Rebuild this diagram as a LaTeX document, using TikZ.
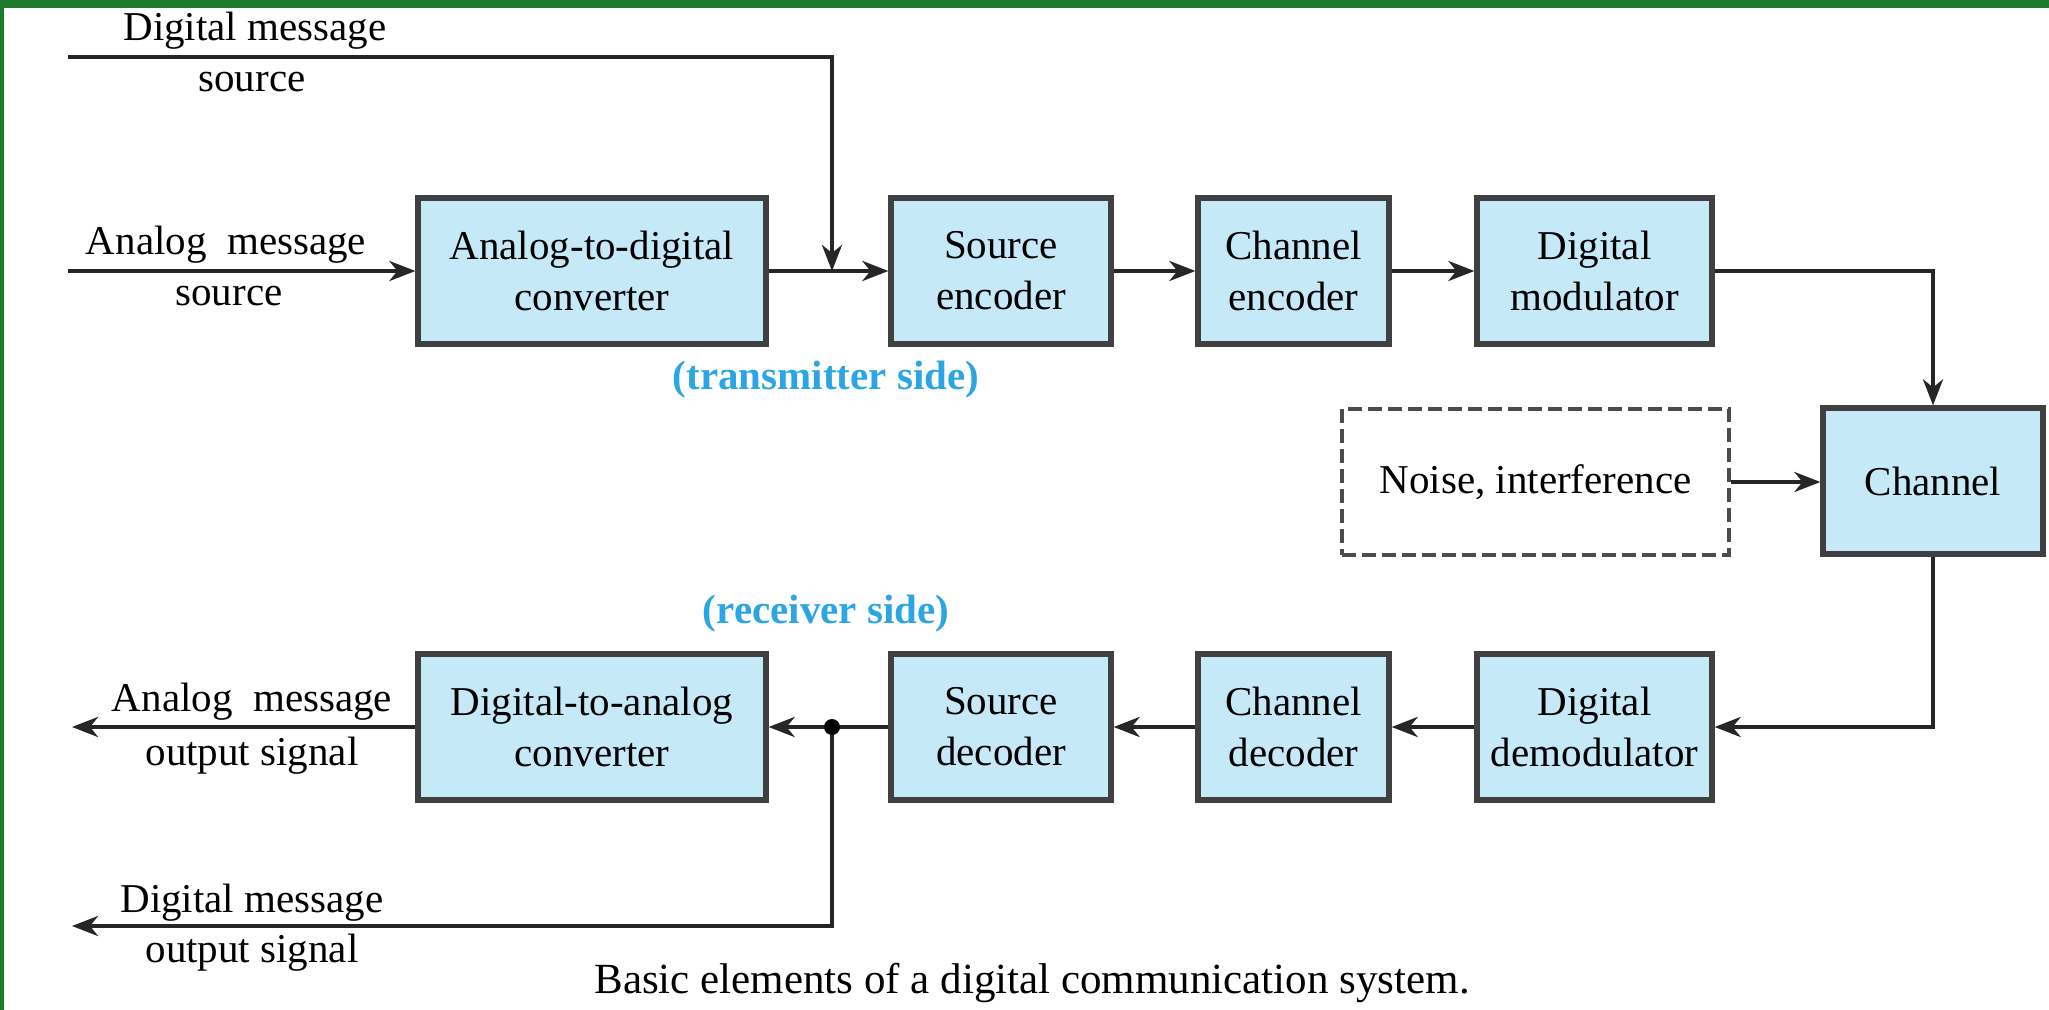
\documentclass[tikz,border=0pt]{standalone}
\usepackage{fontspec}
\setmainfont{Liberation Serif}
\usetikzlibrary{arrows.meta}
\definecolor{boxfill}{HTML}{C6E9F8}
\definecolor{sidecol}{HTML}{2BA6E3}
\definecolor{framecol}{HTML}{1F7A2C}
\begin{document}
\begin{tikzpicture}[x=0.5pt,y=-0.5pt,
  blk/.style={draw=black!75, line width=2.6pt, fill=boxfill, minimum height=73pt, align=center, inner sep=0pt, font=\fontsize{20.5}{25.5}\selectfont},
  lbl/.style={align=center, inner sep=0pt, font=\fontsize{20.5}{25.5}\selectfont},
  side/.style={inner sep=0pt, text=sidecol, font=\fontsize{20.5}{25.5}\selectfont\bfseries},
  conn/.style={line width=2pt, draw=black!85},
  arr/.style={conn, -{Stealth[length=13pt,width=10pt,inset=4pt]}},
]
\fill[white] (0,0) rectangle (2049,1010);
\useasboundingbox (0,0) rectangle (2049,1010);
\fill[framecol] (0,0) rectangle (2049,8);
\fill[framecol] (0,0) rectangle (4,1010);

% top row
\node[blk, minimum width=174pt] (adc) at (592,271) {Analog-to-digital\\converter};
\node[blk, minimum width=110pt] (se) at (1001,271) {Source\\encoder};
\node[blk, minimum width=95.5pt] (ce) at (1293.5,271) {Channel\\encoder};
\node[blk, minimum width=117.5pt] (dm) at (1594.5,271) {Digital\\modulator};
% channel row
\node[blk, minimum width=110pt] (ch) at (1933,481) {Channel};
\node[draw=black!70, dashed, dash pattern=on 7pt off 3pt, line width=1.8pt, minimum width=193.5pt, minimum height=73pt, inner sep=0pt, font=\fontsize{20.5}{25.5}\selectfont] (noise) at (1535.5,482) {Noise, interference};
% bottom row
\node[blk, minimum width=174pt] (dac) at (592,727) {Digital-to-analog\\converter};
\node[blk, minimum width=110pt] (sd) at (1001,727) {Source\\decoder};
\node[blk, minimum width=95.5pt] (cd) at (1293.5,727) {Channel\\decoder};
\node[blk, minimum width=117.5pt] (dd) at (1594.5,727) {Digital\\demodulator};

% coordinates
\coordinate (dsrc) at (68,57);
\coordinate (asrc) at (68,271);
\coordinate (jt) at (832,271);
\coordinate (jr) at (832,727);
\coordinate (aout) at (72,727);
\coordinate (dout) at (72,926);

% labels
\node[lbl] (l1) at (255,31) {Digital message};
\node[lbl] (l2) at (252,82) {source};
\node[lbl] (l3) at (226,245) {Analog\ \ message};
\node[lbl] (l4) at (229,296) {source};
\node[lbl] (l5) at (252,702) {Analog\ \ message};
\node[lbl] (l6) at (252,756) {output signal};
\node[lbl] (l7) at (252,903) {Digital message};
\node[lbl] (l8) at (252,953) {output signal};
\node[side] (tx) at (826,380) {(transmitter side)};
\node[side] (rx) at (826,614) {(receiver side)};
\node[inner sep=0pt, font=\fontsize{21.5}{26}\selectfont] (cap) at (1032,983) {Basic elements of a digital communication system.};

% connectors
\draw[arr] (dsrc) -| (jt);
\draw[arr] (asrc) -- (adc.west);
\draw[arr] (adc.east) -- (se.west);
\draw[arr] (se.east) -- (ce.west);
\draw[arr] (ce.east) -- (dm.west);
\draw[arr] (dm.east) -| (ch.north);
\draw[arr] (noise.east) -- (noise.east -| ch.west);
\draw[arr] (ch.south) |- (dd.east);
\draw[arr] (dd.west) -- (cd.east);
\draw[arr] (cd.west) -- (sd.east);
\draw[arr] (sd.west) -- (dac.east);
\draw[arr] (dac.west) -- (aout);
\draw[arr] (jr) |- (dout);
\fill[black] (jr) circle (8);
\end{tikzpicture}
\end{document}
